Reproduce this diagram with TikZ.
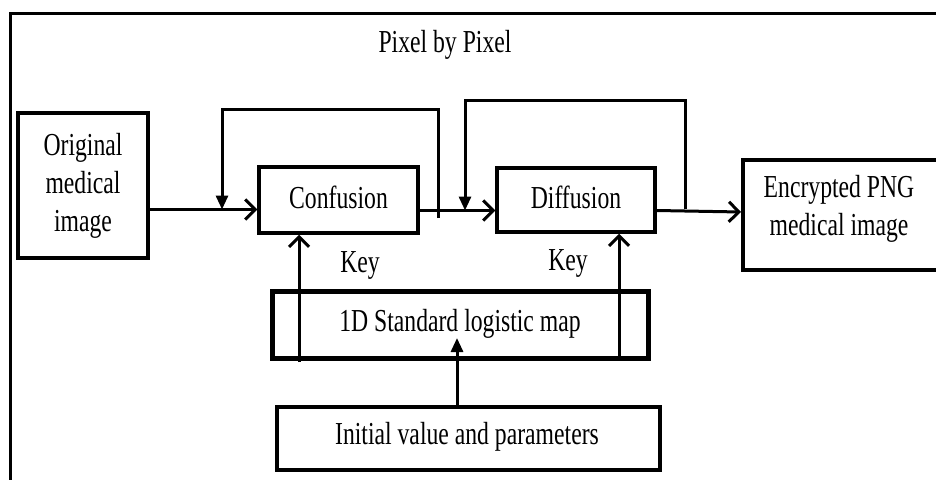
\documentclass[tikz,border=0pt]{standalone}
\usepackage{fontspec}
\newfontfamily\lbl[FakeStretch=0.74]{Liberation Serif}
\usetikzlibrary{arrows.meta}
\begin{document}
\begin{tikzpicture}[x=1pt,y=-1pt,
  box/.style={draw, line width=3.5pt, inner sep=0pt},
  txt/.style={font=\lbl\fontsize{32}{38}\selectfont, align=center, inner sep=0pt},
  wire/.style={line width=3pt},
  barb/.style={-{Straight Barb[length=10pt,width=20pt,line width=3pt]}},
  tri/.style={-{Triangle[length=14pt,width=12pt]}}
]
\useasboundingbox (0,0) rectangle (936,479);
\clip (0,0) rectangle (936,479);
\fill[white] (0,0) rectangle (936,479);
% outer frame (only top and left visible)
\draw[line width=3pt] (10,490) -- (10,13) -- (950,13);
\node[txt] (title) at (445,45) {Pixel by Pixel};
% boxes
\node[box, minimum width=130pt, minimum height=145pt] (orig) at (83,185.5) {};
\node[txt] (origt) at (83,185.5) {Original\\medical\\image};
\node[box, minimum width=159pt, minimum height=66pt] (conf) at (338.5,200) {};
\node[txt] (conft) at (338.5,197) {Confusion};
\node[box, minimum width=158pt, minimum height=64pt] (diff) at (576,200) {};
\node[txt] (difft) at (576,197) {Diffusion};
\node[box, anchor=north west, minimum width=230pt, minimum height=110pt] (enc) at (741,158) {};
\node[txt] (enct) at (839,209) {Encrypted PNG\\medical image};
\node[box, line width=5pt, minimum width=376pt, minimum height=67pt] (map) at (460,324.5) {};
\node[txt] (mapt) at (460,324) {1D Standard logistic map};
\node[box, line width=4.5pt, minimum width=383pt, minimum height=63pt] (init) at (468.5,438.5) {};
\node[txt] (initt) at (467,437) {Initial value and parameters};
\node[txt] (key1) at (360,265) {Key};
\node[txt] (key2) at (568,263) {Key};
% helper coordinates
\coordinate (ya) at (0,209.5);
\coordinate (yb) at (0,210.5);
\coordinate (l1a) at (438,218);
\coordinate (l1b) at (438,109);
\coordinate (l1c) at (222,109);
\coordinate (l2a) at (685,209);
\coordinate (l2b) at (685,100);
\coordinate (l2c) at (465,100);
\coordinate (k1) at (299,362);
\coordinate (k2) at (619,357);
\coordinate (mapin) at (457,338);
% main flow
\draw[wire, barb] (orig.east |- ya) -- (conf.west |- ya);
\draw[wire, barb] (conf.east |- yb) -- (diff.west |- yb);
\draw[wire, barb] (diff.east |- yb) -- (enc.west |- 0,212);
% feedback loops
\draw[wire, tri] (l1a) -- (l1b) -- (l1c) -- (l1c |- ya);
\draw[wire, tri] (l2a) -- (l2b) -- (l2c) -- (l2c |- yb);
% key arrows
\draw[wire, barb] (k1) -- (k1 |- conf.south);
\draw[wire, barb] (k2) -- (k2 |- diff.south);
\draw[wire, tri] (init.north -| mapin) -- (mapin);
\end{tikzpicture}
\end{document}
